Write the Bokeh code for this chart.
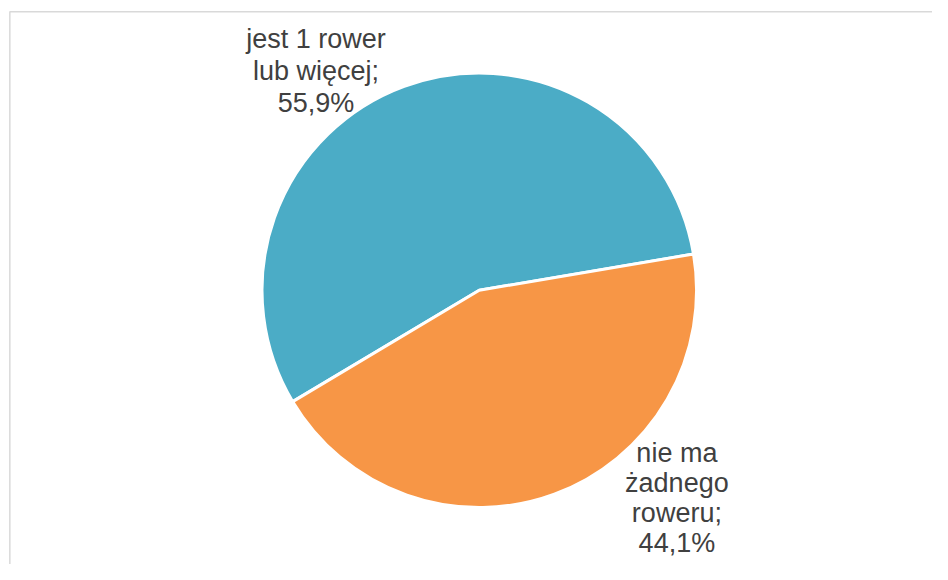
import math
from bokeh.plotting import figure
from bokeh.models import Range1d, ColumnDataSource
from bokeh.core.properties import value
from bokeh.embed import file_html
from bokeh.resources import INLINE

# ---- data ----
categories = ["jest 1 rower lub więcej", "nie ma żadnego roweru"]
shares = [55.9, 44.1]
label_lines = [
    ["jest 1 rower", "lub więcej;", "55,9%"],
    ["nie ma", "żadnego", "roweru;", "44,1%"],
]
colors = ["#4BACC6", "#F79646"]

# ---- layout: reference frame 948x580 (y from top) mapped into the figure ----
REF_W, REF_H = 948, 580
W, H = 932, 564
def py(y):  # reference y (from top) -> data y
    return REF_H - y

cx, cy = 487, py(298)
R = 221
start_deg = 9.6  # first slice starts here, anticlockwise

label_x = [321, 688]
label_first_baseline = [39.5, 465]
line_step = [33, 31]
font_px = "27px"

p = figure(width=W, height=H, output_backend="svg", toolbar_location=None,
           x_range=Range1d(0, REF_W), y_range=Range1d(0, REF_H),
           min_border=0, outline_line_color=None, background_fill_color="white")
p.axis.visible = False
p.xgrid.visible = False
p.ygrid.visible = False

# chart area border
p.quad(left=[9.5], right=[1200], top=[py(11.5)], bottom=[-200],
       fill_color=None, line_color="#D9D9D9", line_width=1.5)

# wedges
starts, ends = [], []
a = start_deg
for s in shares:
    span = s / 100.0 * 360.0
    starts.append(math.radians(a))
    ends.append(math.radians(a + span))
    a += span
src = ColumnDataSource(dict(x=[cx] * len(shares), y=[cy] * len(shares),
                            start=starts, end=ends, color=colors, cat=categories))
p.wedge(x="x", y="y", radius=R, start_angle="start",
        end_angle="end", fill_color="color", line_color="white", line_width=3,
        source=src)

# labels
xs, ys, texts = [], [], []
for i, lines in enumerate(label_lines):
    for j, t in enumerate(lines):
        xs.append(label_x[i])
        ys.append(py(label_first_baseline[i] + j * line_step[i]))
        texts.append(t)
p.text(x=xs, y=ys, text=texts, text_font=value("Liberation Sans"),
       text_font_size=font_px, text_color="#404040", text_align="center",
       text_baseline="alphabetic")

open("out.html", "w").write(file_html(p, INLINE))
